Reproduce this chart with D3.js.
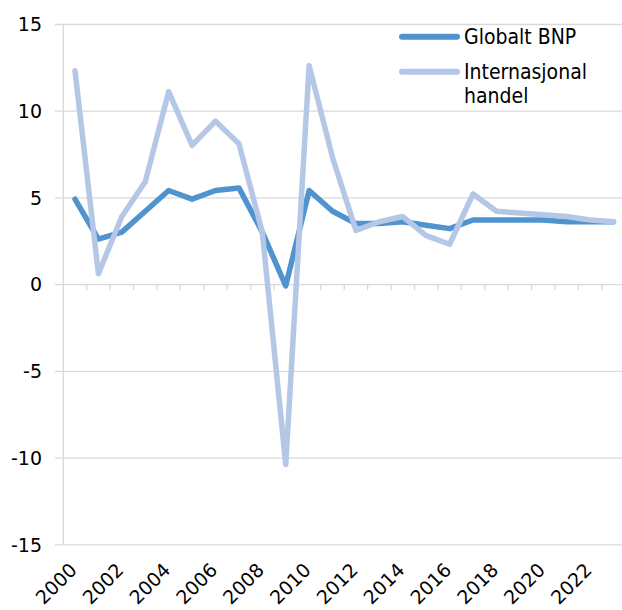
<!DOCTYPE html>
<html>
<head>
<meta charset="utf-8">
<script src="https://cdn.jsdelivr.net/npm/d3@7"></script>
<style>
  body { margin: 0; background: #fff; }
  text { font-family: "DejaVu Sans", sans-serif; fill: #000; }
  .legend text { font-stretch: condensed; font-family: "DejaVu Sans Condensed", "DejaVu Sans", sans-serif; }
</style>
</head>
<body>
<script>
// years on the x axis
var years = d3.range(2000, 2024);
var yearLabels = years.filter(function(d) { return d % 2 == 0; });
var yTicks = [-15, -10, -5, 0, 5, 10, 15];

// growth, percent
var globaltBNP = [4.9, 2.6, 3.0, 4.2, 5.4, 4.9, 5.4, 5.55, 3.0, -0.1, 5.4, 4.2,
                  3.5, 3.5, 3.6, 3.4, 3.2, 3.7, 3.7, 3.7, 3.7, 3.6, 3.6, 3.6];
var handel = [12.3, 0.6, 3.9, 5.9, 11.1, 8.0, 9.4, 8.1, 3.0, -10.4, 12.6, 7.3,
              3.1, 3.6, 3.9, 2.8, 2.3, 5.2, 4.2, 4.1, 4.0, 3.9, 3.7, 3.6];

var seriesNames = ["Globalt BNP", ["Internasjonal", "handel"]];
var colors = ["#4f93cf", "#b4c7e7"];

var width = 622,
    height = 610;

var x = d3.scaleBand()
    .domain(years)
    .range([63.3, 625.2])
    .padding(0);

var y = d3.scaleLinear()
    .domain([-15, 15])
    .range([544.3, 24]);

var svg = d3.select("body").append("svg")
    .attr("width", width)
    .attr("height", height);

// gridlines + y labels
var yAxis = svg.append("g")
    .attr("transform", "translate(55,0)")
    .call(d3.axisLeft(y).tickValues(yTicks)
      .tickFormat(function(d) { return String(d); }) // plain hyphen like the original
      .tickSize(-(width - 55)).tickPadding(13));
yAxis.select(".domain").remove();
yAxis.selectAll("line").attr("stroke", "#d9d9d9").attr("stroke-width", 1.3);
yAxis.selectAll("text")
    .style("font-size", "19px")
    .attr("dy", "0.36em");

// vertical axis line
svg.append("line")
    .attr("x1", x.range()[0]).attr("x2", x.range()[0])
    .attr("y1", y(15)).attr("y2", y(-15))
    .attr("stroke", "#d9d9d9")
    .attr("stroke-width", 1.3);

// small ticks on the zero line, between categories
svg.selectAll(".minor")
    .data(years.slice(1))
    .enter().append("line")
    .attr("x1", function(d) { return x(d); })
    .attr("x2", function(d) { return x(d); })
    .attr("y1", y(0))
    .attr("y2", y(0) + 6)
    .attr("stroke", "#d9d9d9")
    .attr("stroke-width", 1.3);

// x labels, rotated
var xAxis = svg.append("g")
    .attr("transform", "translate(0," + y(-15) + ")")
    .call(d3.axisBottom(x).tickValues(yearLabels).tickSize(0));
xAxis.select(".domain").remove();
xAxis.selectAll("text")
    .style("font-size", "19px")
    .attr("text-anchor", "end")
    .attr("dy", null)
    .attr("y", 0)
    .attr("transform", "translate(3,27) rotate(-45)");

var line = d3.line()
    .x(function(d, i) { return x(years[i]) + x.bandwidth() / 2; })
    .y(function(d) { return y(d); });

[globaltBNP, handel].forEach(function(s, i) {
  svg.append("path")
    .datum(s)
    .attr("d", line)
    .attr("fill", "none")
    .attr("stroke", colors[i])
    .attr("stroke-width", 5.5)
    .attr("stroke-linejoin", "round")
    .attr("stroke-linecap", "round");
});

// legend
var legend = svg.append("g").attr("class", "legend");
var legY = [36.7, 71.7];
seriesNames.forEach(function(name, i) {
  legend.append("line")
    .attr("x1", 402).attr("x2", 457)
    .attr("y1", legY[i]).attr("y2", legY[i])
    .attr("stroke", colors[i])
    .attr("stroke-width", 6)
    .attr("stroke-linecap", "round");
  var lines = [].concat(name);
  var t = legend.append("text")
    .attr("x", 464)
    .attr("y", legY[i] + 7)
    .style("font-size", "21px");
  lines.forEach(function(l, j) {
    t.append("tspan")
      .attr("x", 464)
      .attr("dy", j == 0 ? 0 : 24)
      .text(l);
  });
});
</script>
</body>
</html>
